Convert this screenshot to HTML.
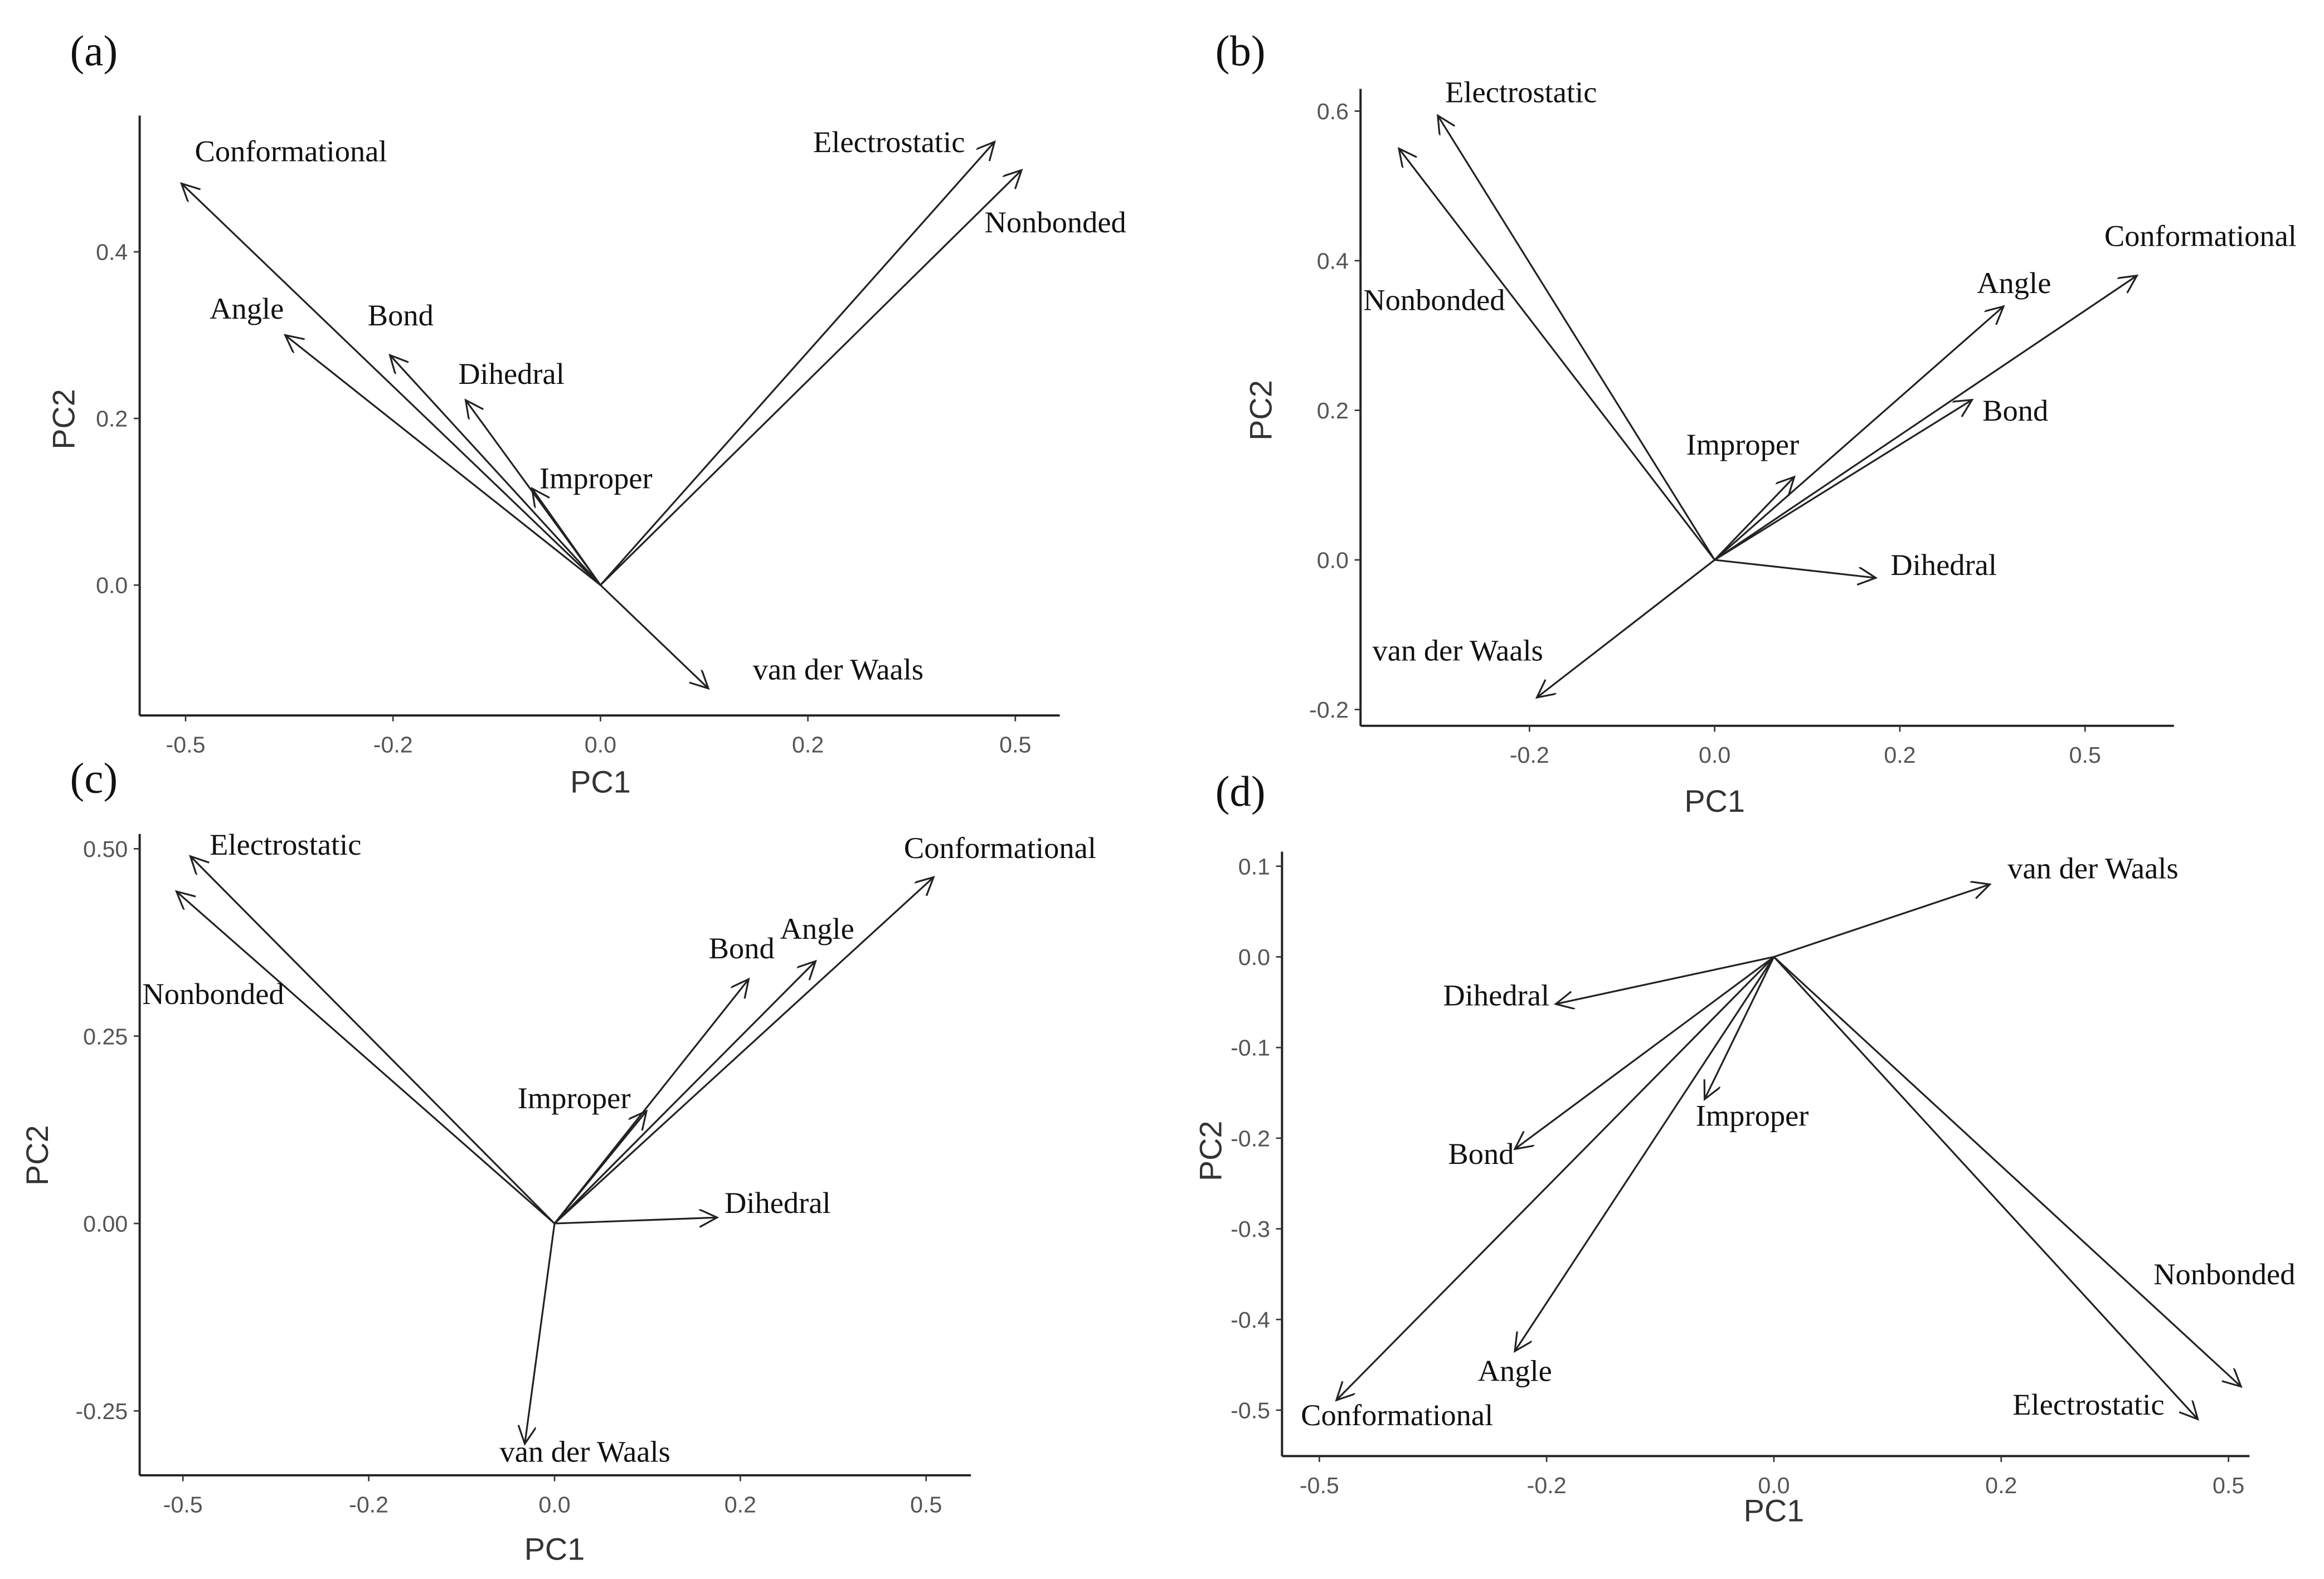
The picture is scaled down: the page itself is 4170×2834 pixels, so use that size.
<!DOCTYPE html>
<html><head><meta charset="utf-8"><style>
html,body{margin:0;padding:0;background:#fff;}
svg{display:block;}
.lbl{font-family:"Liberation Serif",serif;font-size:20.5px;fill:#111;}
.tick{font-family:"Liberation Sans",sans-serif;font-size:15.5px;fill:#555;}
.ttl{font-family:"Liberation Sans",sans-serif;font-size:21px;fill:#333;}
.pl{font-family:"Liberation Serif",serif;font-size:29px;fill:#111;}
</style></head><body>
<svg id="fig" width="4170" height="2834" viewBox="0 0 1568 1066" xmlns="http://www.w3.org/2000/svg">
<defs><marker id="ah" markerUnits="userSpaceOnUse" markerWidth="16" markerHeight="16" refX="13" refY="6" orient="auto"><path d="M1,0 L13,6 L1,12" fill="none" stroke="#222" stroke-width="1.2"/></marker></defs>
</svg>
<script>
const aNames=["Conformational","Angle","Bond","Dihedral","Improper","Electrostatic","Nonbonded","van der Waals"];
const aPC1=[-0.404,-0.304,-0.203,-0.13,-0.066,0.38,0.406,0.104];
const aPC2=[0.482,0.300,0.276,0.222,0.116,0.532,0.498,-0.124];
const aXTicks=[-0.4,-0.2,0,0.2,0.4];
const aXTickLabels=["-0.5","-0.2","0.0","0.2","0.5"];
const aYTicks=[0,0.2,0.4];
const aYTickLabels=["0.0","0.2","0.4"];

const bNames=["Electrostatic","Nonbonded","Conformational","Angle","Bond","Improper","Dihedral","van der Waals"];
const bPC1=[-0.299,-0.341,0.456,0.312,0.278,0.086,0.174,-0.192];
const bPC2=[0.594,0.550,0.380,0.339,0.214,0.111,-0.024,-0.184];
const bXTicks=[-0.2,0,0.2,0.4];
const bXTickLabels=["-0.2","0.0","0.2","0.5"];
const bYTicks=[-0.2,0,0.2,0.4,0.6];
const bYTickLabels=["-0.2","0.0","0.2","0.4","0.6"];

const cNames=["Electrostatic","Nonbonded","Conformational","Angle","Bond","Improper","Dihedral","van der Waals"];
const cPC1=[-0.392,-0.407,0.408,0.281,0.209,0.099,0.175,-0.032];
const cPC2=[0.490,0.443,0.462,0.350,0.326,0.150,0.008,-0.294];
const cXTicks=[-0.4,-0.2,0,0.2,0.4];
const cXTickLabels=["-0.5","-0.2","0.0","0.2","0.5"];
const cYTicks=[-0.25,0,0.25,0.5];
const cYTickLabels=["-0.25","0.00","0.25","0.50"];

const dNames=["van der Waals","Dihedral","Bond","Improper","Angle","Conformational","Nonbonded","Electrostatic"];
const dPC1=[0.190,-0.192,-0.228,-0.061,-0.228,-0.385,0.411,0.373];
const dPC2=[0.080,-0.052,-0.212,-0.157,-0.435,-0.489,-0.474,-0.510];
const dXTicks=[-0.4,-0.2,0,0.2,0.4];
const dXTickLabels=["-0.5","-0.2","0.0","0.2","0.5"];
const dYTicks=[-0.5,-0.4,-0.3,-0.2,-0.1,0,0.1];
const dYTickLabels=["-0.5","-0.4","-0.3","-0.2","-0.1","0.0","0.1"];

const panels=[
 {id:"a",names:aNames,x:aPC1,y:aPC2,xt:aXTicks,xl:aXTickLabels,yt:aYTicks,yl:aYTickLabels,
  ox:405,oy:395,kx:700,ky:562.5,ax:94,ayTop:78,ayBot:483,axRight:715,plx:47,ply:44,pc2x:50,pc2y:283,pc1y:535,
  off:[[9,-15,"start"],[-51,-11,"start"],[-15,-20,"start"],[-5,-11,"start"],[5,0,"start"],[-20,7,"end"],[-25,42,"start"],[30,-6,"start"]]},
 {id:"b",names:bNames,x:bPC1,y:bPC2,xt:bXTicks,xl:bXTickLabels,yt:bYTicks,yl:bYTickLabels,
  ox:1157,oy:378,kx:625,ky:505,ax:918,ayTop:60,ayBot:490,axRight:1467,plx:820,ply:44,pc2x:858,pc2y:277,pc1y:548,
  off:[[5,-9,"start"],[-24,109,"start"],[-22,-20,"start"],[-18,-9,"start"],[7,14,"start"],[-73,-15,"start"],[10,-2,"start"],[-111,-25,"start"]]},
 {id:"c",names:cNames,x:cPC1,y:cPC2,xt:cXTicks,xl:cXTickLabels,yt:cYTicks,yl:cYTickLabels,
  ox:374,oy:826,kx:627,ky:506,ax:94,ayTop:563,ayBot:996,axRight:655,plx:47,ply:535,pc2x:32,pc2y:780,pc1y:1053,
  off:[[13,-1,"start"],[-23,76,"start"],[-20,-13,"start"],[-24,-15,"start"],[-27,-14,"start"],[-87,-2,"start"],[5,-3,"start"],[-17,12,"start"]]},
 {id:"d",names:dNames,x:dPC1,y:dPC2,xt:dXTicks,xl:dXTickLabels,yt:dYTicks,yl:dYTickLabels,
  ox:1197,oy:646,kx:767,ky:612,ax:865,ayTop:575,ayBot:983,axRight:1518,plx:820,ply:544,pc2x:824,pc2y:777,pc1y:1027,
  off:[[12,-4,"start"],[-76,1,"start"],[-45,10,"start"],[-6,18,"start"],[-25,20,"start"],[-24,17,"start"],[-59,-69,"start"],[-125,-3,"start"]]}
];
const NS="http://www.w3.org/2000/svg";
const svg=document.getElementById("fig");
function mk(tag,attrs,parent){const e=document.createElementNS(NS,tag);for(const k in attrs)e.setAttribute(k,attrs[k]);parent.appendChild(e);return e;}
panels.forEach(p=>{
 const g=mk("g",{},svg);
 
 
 const sx=v=>p.ox+v*p.kx, sy=v=>p.oy-v*p.ky;
 const pl=mk("text",{x:p.plx,y:p.ply,class:"pl"},g);pl.textContent="("+p.id+")";
 
 
 const ya=mk("line",{x1:p.ax,y1:p.ayTop,x2:p.ax,y2:p.ayBot,stroke:"#222","stroke-width":1.5},g);
 
 
 const xa=mk("line",{x1:p.ax,y1:p.ayBot,x2:p.axRight,y2:p.ayBot,stroke:"#222","stroke-width":1.5},g);
 
 
 p.xt.forEach((v,i)=>{
  mk("line",{x1:sx(v),y1:p.ayBot,x2:sx(v),y2:p.ayBot+4,stroke:"#333"},g);
  const t=mk("text",{x:sx(v),y:p.ayBot+25,class:"tick","text-anchor":"middle"},g);t.textContent=p.xl[i];
  
  
 });
 p.yt.forEach((v,i)=>{
  mk("line",{x1:p.ax-4,y1:sy(v),x2:p.ax,y2:sy(v),stroke:"#333"},g);
  const t=mk("text",{x:p.ax-8,y:sy(v)+5.5,class:"tick","text-anchor":"end"},g);t.textContent=p.yl[i];
  
  
 });
 const t1=mk("text",{x:sx(0),y:p.pc1y,class:"ttl","text-anchor":"middle"},g);t1.textContent="PC1";
 
 
 const t2=mk("text",{x:p.pc2x,y:p.pc2y,class:"ttl","text-anchor":"middle",transform:"rotate(-90 "+p.pc2x+" "+p.pc2y+")"},g);t2.textContent="PC2";
 
 
 p.names.forEach((n,i)=>{
  const ex=sx(p.x[i]), ey=sy(p.y[i]);
  const ln=mk("line",{x1:sx(0),y1:sy(0),x2:ex,y2:ey,stroke:"#222","stroke-width":1.2,"marker-end":"url(#ah)"},g);
  
  
  const o=p.off[i];
  const lt=mk("text",{x:ex+o[0],y:ey+o[1],class:"lbl","text-anchor":o[2]},g);lt.textContent=n;
  
  
 });
});
</script>
</body></html>
